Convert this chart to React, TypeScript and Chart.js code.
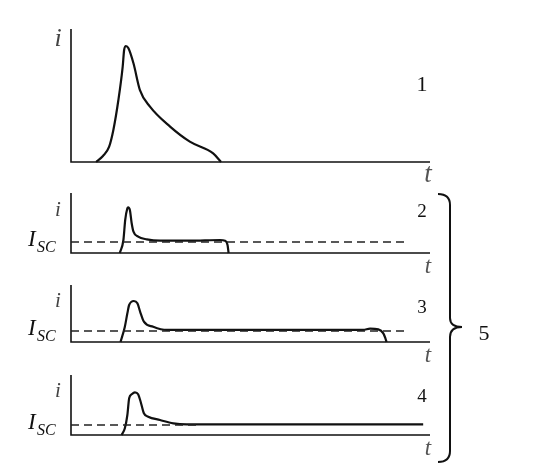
import React, { useEffect, useRef } from "react";
import { Chart, registerables } from "chart.js";

Chart.register(...registerables);

// ---- data (t in arbitrary units 0..100, i normalised 0..1 per panel) ----
const t1 = [7.0, 8.9, 10.6, 11.8, 13.2, 14.4, 14.8, 15.3, 16.0, 17.4, 19.2, 22.0, 27.6, 33.1, 39.6, 41.8];
const i1 = [0, 0.045, 0.113, 0.241, 0.466, 0.717, 0.842, 0.872, 0.855, 0.742, 0.541, 0.416, 0.266, 0.153, 0.065, 0];

const t2 = [13.6, 14.6, 15.1, 15.7, 15.9, 16.4, 16.9, 17.4, 18.7, 21.1, 24.8, 33.1, 41.5, 42.9, 43.6, 43.9];
const i2 = [0, 0.217, 0.55, 0.745, 0.762, 0.717, 0.495, 0.355, 0.272, 0.228, 0.205, 0.205, 0.217, 0.205, 0.133, 0];
const isc2 = 0.183;
const dashEnd2 = 93.0;

const t3 = [13.8, 15.0, 15.7, 16.2, 17.5, 18.5, 19.4, 20.3, 22.9, 26.7, 81.4, 83.3, 85.6, 87.0, 87.6, 87.9];
const i3 = [0, 0.268, 0.503, 0.649, 0.719, 0.678, 0.503, 0.357, 0.268, 0.211, 0.211, 0.234, 0.222, 0.152, 0.06, 0];
const isc3 = 0.193;
const dashEnd3 = 94.0;

const t4 = [14.1, 15.0, 15.7, 16.2, 16.9, 17.8, 18.7, 19.4, 20.3, 21.5, 24.8, 28.5, 32.2, 98.1];
const i4 = [0, 0.112, 0.333, 0.612, 0.678, 0.712, 0.678, 0.555, 0.362, 0.305, 0.25, 0.195, 0.178, 0.178];
const isc4 = 0.167;
const dashEnd4 = 35.0;

const panelLabels = ["1", "2", "3", "4"];
const groupLabel = "5";

const W = 533;
const H = 471;
const SERIF = '"Liberation Serif", "DejaVu Serif", serif';

type Panel = {
  t: number[];
  i: number[];
  isc?: number;
  dashEnd?: number;
  label: string;
  top: number;
  bottom: number;
  iFont: number;
  tFont: number;
  iDy: number;
  numY: number;
  numFont: number;
};

const panels: Panel[] = [
  { t: t1, i: i1, label: panelLabels[0], top: 29, bottom: 162, iFont: 26, tFont: 27, iDy: 17, numY: 91, numFont: 22 },
  { t: t2, i: i2, isc: isc2, dashEnd: dashEnd2, label: panelLabels[1], top: 193, bottom: 253, iFont: 21, tFont: 23, iDy: 23, numY: 217, numFont: 19 },
  { t: t3, i: i3, isc: isc3, dashEnd: dashEnd3, label: panelLabels[2], top: 285, bottom: 342, iFont: 21, tFont: 23, iDy: 22, numY: 313, numFont: 19 },
  { t: t4, i: i4, isc: isc4, dashEnd: dashEnd4, label: panelLabels[3], top: 375, bottom: 435, iFont: 21, tFont: 23, iDy: 22, numY: 402, numFont: 19 },
];

function makeChart(canvas: HTMLCanvasElement, p: Panel, drawBrace: boolean) {
  const datasets: any[] = [];
  if (p.isc !== undefined) {
    datasets.push({
      data: [
        { x: 0, y: p.isc },
        { x: p.dashEnd, y: p.isc },
      ],
      borderColor: "#222",
      borderWidth: 1.3,
      borderDash: [8, 5],
      pointRadius: 0,
      clip: false,
    });
  }
  datasets.push({
    data: p.t.map((x, k) => ({ x, y: p.i[k] })),
    borderColor: "#111",
    borderWidth: 2.2,
    pointRadius: 0,
    cubicInterpolationMode: "monotone",
    clip: false,
  });

  const deco = {
    id: "deco" + p.label,
    beforeDatasetsDraw(chart: any) {
      const ctx = chart.ctx as CanvasRenderingContext2D;
      const xs = chart.scales.x;
      const ys = chart.scales.y;
      const x0 = xs.getPixelForValue(0);
      const x1 = xs.getPixelForValue(100);
      const y0 = ys.getPixelForValue(0);
      const yTop = ys.getPixelForValue(1);
      ctx.save();
      ctx.strokeStyle = "#111";
      ctx.lineWidth = 1.6;
      ctx.beginPath();
      ctx.moveTo(x0, yTop);
      ctx.lineTo(x0, y0);
      ctx.lineTo(x1, y0);
      ctx.stroke();
      ctx.restore();
    },
    afterDatasetsDraw(chart: any) {
      const ctx = chart.ctx as CanvasRenderingContext2D;
      const xs = chart.scales.x;
      const ys = chart.scales.y;
      const x0 = xs.getPixelForValue(0);
      const x1 = xs.getPixelForValue(100);
      const y0 = ys.getPixelForValue(0);
      const yTop = ys.getPixelForValue(1);
      ctx.save();
      ctx.textAlign = "center";
      ctx.textBaseline = "alphabetic";
      // i label
      ctx.fillStyle = "#444";
      ctx.font = `italic ${p.iFont}px ${SERIF}`;
      ctx.fillText("i", x0 - 13, yTop + p.iDy);
      // t label
      ctx.fillStyle = "#555";
      ctx.font = `italic ${p.tFont}px ${SERIF}`;
      ctx.fillText("t", x1 - 2, y0 + 20);
      // panel number
      ctx.fillStyle = "#111";
      ctx.font = `${p.numFont}px ${SERIF}`;
      ctx.fillText(p.label, x1 - 8, p.numY);
      // I_SC
      if (p.isc !== undefined) {
        const yd = ys.getPixelForValue(p.isc);
        ctx.textAlign = "left";
        ctx.fillStyle = "#111";
        ctx.font = `italic 23px ${SERIF}`;
        ctx.fillText("I", 28, yd + 4);
        ctx.font = `italic 16px ${SERIF}`;
        ctx.fillText("SC", 37, yd + 10);
      }
      if (drawBrace) {
        ctx.strokeStyle = "#111";
        ctx.lineWidth = 2;
        ctx.beginPath();
        ctx.moveTo(438, 194);
        ctx.quadraticCurveTo(450, 194, 450, 205);
        ctx.lineTo(450, 318);
        ctx.quadraticCurveTo(450, 327, 462, 327);
        ctx.quadraticCurveTo(450, 327, 450, 337);
        ctx.lineTo(450, 451);
        ctx.quadraticCurveTo(450, 462, 438, 462);
        ctx.stroke();
        ctx.fillStyle = "#111";
        ctx.textAlign = "center";
        ctx.font = `22px ${SERIF}`;
        ctx.fillText(groupLabel, 484, 340);
      }
      ctx.restore();
    },
  };

  return new Chart(canvas, {
    type: "line",
    data: { datasets },
    options: {
      responsive: false,
      animation: false,
      devicePixelRatio: 1,
      layout: {
        padding: { left: 71, right: W - 430, top: p.top, bottom: H - p.bottom },
      },
      plugins: { legend: { display: false }, tooltip: { enabled: false } },
      scales: {
        x: { type: "linear", min: 0, max: 100, display: false },
        y: { type: "linear", min: 0, max: 1, display: false },
      },
      events: [],
    },
    plugins: [deco],
  } as any);
}

export default function App() {
  const refs = [useRef<HTMLCanvasElement>(null), useRef<HTMLCanvasElement>(null), useRef<HTMLCanvasElement>(null), useRef<HTMLCanvasElement>(null)];
  useEffect(() => {
    const charts = panels.map((p, k) => makeChart(refs[k].current as HTMLCanvasElement, p, k === 3));
    return () => charts.forEach((c) => c.destroy());
  }, []);
  return (
    <div style={{ position: "fixed", left: 0, top: 0, width: W, height: H, background: "#fff" }}>
      {refs.map((r, k) => (
        <canvas
          key={k}
          ref={r}
          width={W}
          height={H}
          style={{ position: "absolute", left: 0, top: 0, width: W, height: H }}
        />
      ))}
    </div>
  );
}
